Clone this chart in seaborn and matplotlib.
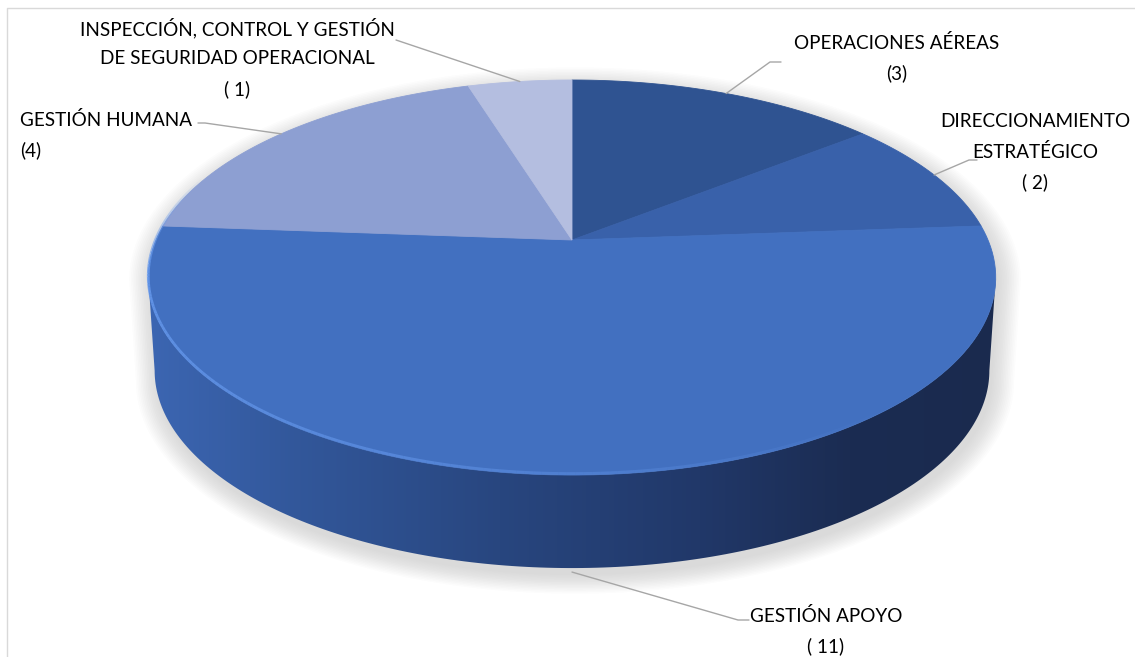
import numpy as np
import matplotlib
matplotlib.use("Agg")
import matplotlib.pyplot as plt
import seaborn as sns
from matplotlib.patches import Polygon
from matplotlib.collections import LineCollection
from matplotlib.colors import to_rgb

# ---------------- data ----------------
categories = ["OPERACIONES AÉREAS",
              "DIRECCIONAMIENTO\nESTRATÉGICO",
              "GESTIÓN APOYO",
              "GESTIÓN HUMANA",
              "INSPECCIÓN, CONTROL Y GESTIÓN\nDE SEGURIDAD OPERACIONAL"]
counts = [3, 2, 11, 4, 1]
count_labels = ["(3)", "( 2)", "( 11)", "(4)", "( 1)"]
slice_colors = ["#2f5391", "#3961aa", "#4270c0", "#8d9fd2", "#b4bee0"]
side_stops = ["#3c66b2", "#32579a", "#28467f", "#213869", "#1b2c52", "#1a2a4e"]

sns.set_theme(style="white")
plt.rcParams['font.family'] = ['Lato', 'Open Sans', 'DejaVu Sans']

W, H = 1135, 657
fig = plt.figure(figsize=(W / 100, H / 100), dpi=100)
ax = fig.add_axes([0, 0, 1, 1])

# ---------------- geometry (perspective pie) ----------------
CX, CY0 = 572, 240
R = 416
B, C = -144.8, 0.19
DEPTH = 93


def rim(theta_deg, depth=0.0, rscale=1.0):
    t = np.radians(np.asarray(theta_deg, dtype=float))
    u, v = np.sin(t), np.cos(t)
    den = 1 + C * v
    x = CX + R * rscale * u / den
    y = (CY0 + B * v) / den + depth
    return x, y


th_r = np.degrees(np.arccos(-C))
th_l = 360 - th_r
total = sum(counts)
angles = np.cumsum([0] + [c / total * 360 for c in counts])

# silhouette (for shadow)
tb = np.linspace(th_l, th_r + 360, 200)
xb, yb = rim(tb)
tf = np.linspace(th_r, th_l, 200)
xf, yf = rim(tf, DEPTH, 0.985)
sil = np.column_stack([np.r_[xb, xf], np.r_[yb, yf]])

# shadow
ccx, ccy = CX, 330
for k in range(14):
    s = 1 + 0.004 * k
    pts = np.column_stack([(sil[:, 0] - ccx) * s + ccx + 3,
                           (sil[:, 1] - ccy) * (1 + 0.006 * k) + ccy + 7])
    ax.add_patch(Polygon(pts, closed=True, facecolor="#7f7f7f",
                         edgecolor="none", alpha=0.02, zorder=1))

# side with gradient
xt, yt = rim(tf[::-1])
xs = np.r_[xt, xf]
ys = np.r_[yt, yf]
side_patch = Polygon(np.column_stack([xs, ys]), closed=True,
                     facecolor="none", edgecolor="none", zorder=2)
ax.add_patch(side_patch)
stops = np.array([to_rgb(c) for c in side_stops])
stop_x = np.array([148, 300, 500, 700, 850, 1000])
gx = np.linspace(140, 1005, 600)
grad = np.stack([np.interp(gx, stop_x, stops[:, i]) for i in range(3)], axis=-1)
img = ax.imshow(grad[np.newaxis, :, :], extent=(140, 1005, 600, 260),
                aspect='auto', zorder=2, interpolation='bilinear')
img.set_clip_path(side_patch)

# top wedges
for i, col in enumerate(slice_colors):
    th = np.linspace(angles[i], angles[i + 1], 120)
    x, y = rim(th)
    pts = np.column_stack([np.r_[CX, x], np.r_[CY0, y]])
    ax.add_patch(Polygon(pts, closed=True, facecolor=col, edgecolor=col,
                         linewidth=0.6, zorder=3))

# highlight along front rim
th_h = np.linspace(290, 140, 160)
xh, yh = rim(th_h)
yh = yh - 1.5
segs = [[(xh[j], yh[j]), (xh[j + 1], yh[j + 1])] for j in range(len(xh) - 1)]
alph = np.interp(th_h[:-1], [140, 200, 260, 290], [0.0, 0.55, 0.85, 0.0])
hc = [(0.40, 0.60, 0.93, a) for a in alph]
ax.add_collection(LineCollection(segs, colors=hc, linewidths=2.0, zorder=4))

# ---------------- labels and leader lines ----------------
mids = (angles[:-1] + angles[1:]) / 2
lc = "#a6a6a6"
fs = 13.6
leader_pts = [
    [(770, 62), (781, 62)],
    [(969, 160), (977, 160)],
    [(738, 620), (749, 620)],
    [(205, 123), (198, 123)],
    [(396, 40), (396, 40)],
]
for i in range(len(counts)):
    if i == 2:
        x0, y0 = rim(mids[i], DEPTH)
        y0 = y0 + 4
    else:
        x0, y0 = rim(mids[i])
    px = [x0] + [p[0] for p in leader_pts[i]]
    py = [y0] + [p[1] for p in leader_pts[i]]
    ax.plot(px, py, color=lc, linewidth=1.0, zorder=5)

label_pos = [
    (897, 58, 'center'),
    (1035, 152, 'center'),
    (826, 631, 'center'),
    (20, 135, 'left'),
    (237, 58, 'center'),
]
for i, (cat, cl) in enumerate(zip(categories, count_labels)):
    x, y, ha = label_pos[i]
    ax.text(x, y, cat + "\n" + cl, ha=ha, va='center', multialignment=ha,
            fontsize=fs, color="#000000", linespacing=1.85, zorder=6)

# frame
ax.plot([7, 7, W], [H, 8, 8], color="#d9d9d9", linewidth=1.0, zorder=0)

ax.set_xlim(0, W)
ax.set_ylim(H, 0)
ax.axis('off')
fig.savefig("out.png", dpi=100)
